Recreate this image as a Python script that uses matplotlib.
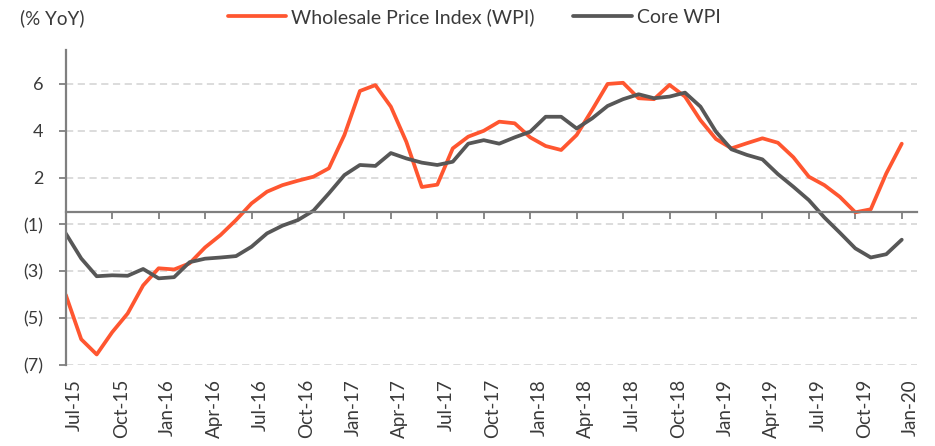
import matplotlib.pyplot as plt
from matplotlib.transforms import ScaledTranslation
import pandas as pd

months = pd.date_range("2015-07-01", "2020-01-01", freq="MS")

wpi = [-3.0, -4.9, -5.55, -4.6, -3.8, -2.6, -1.87, -1.92, -1.66, -0.98,
       -0.45, 0.19, 0.9, 1.4, 1.68, 1.87, 2.04, 2.4, 3.82, 5.7,
       5.95, 5.03, 3.53, 1.6, 1.7, 3.25, 3.75, 4.0, 4.39, 4.32,
       3.72, 3.35, 3.18, 3.82, 4.89, 6.0, 6.05, 5.39, 5.35, 5.96,
       5.46, 4.45, 3.65, 3.25, 3.47, 3.68, 3.49, 2.87, 2.04, 1.68,
       1.18, 0.52, 0.65, 2.18, 3.45]

core_wpi = [-0.38, -1.45, -2.21, -2.17, -2.19, -1.9, -2.3, -2.25, -1.61, -1.46,
            -1.41, -1.35, -0.95, -0.38, -0.05, 0.19, 0.59, 1.33, 2.11, 2.54,
            2.5, 3.05, 2.82, 2.64, 2.54, 2.68, 3.45, 3.6, 3.45, 3.72,
            3.96, 4.6, 4.6, 4.10, 4.53, 5.06, 5.35, 5.56, 5.39, 5.46,
            5.63, 5.03, 3.96, 3.21, 2.97, 2.78, 2.15, 1.61, 1.04, 0.30,
            -0.35, -1.02, -1.41, -1.27, -0.65]

xtick_labels = ["Jul-15", "Oct-15", "Jan-16", "Apr-16", "Jul-16", "Oct-16",
                "Jan-17", "Apr-17", "Jul-17", "Oct-17", "Jan-18", "Apr-18",
                "Jul-18", "Oct-18", "Jan-19", "Apr-19", "Jul-19", "Oct-19",
                "Jan-20"]
ytick_vals = [6, 4, 2, 0, -2, -4, -6]
ytick_labels = ["6", "4", "2", "(1)", "(3)", "(5)", "(7)"]

plt.rcParams['font.family'] = ['Lato', 'DejaVu Sans']

orange = "#FF5630"
grey = "#575757"
axis_grey = "#7F7F7F"
text_col = "#3A3A3A"

fig = plt.figure(figsize=(9.35, 4.46), dpi=100)
ax = fig.add_axes([0.0703, 0.1816, 0.9107, 0.7063])

x = list(range(len(months)))
ax.plot(x, wpi, color=orange, lw=2.7, solid_capstyle='round', solid_joinstyle='round',
        label="Wholesale Price Index (WPI)")
ax.plot(x, core_wpi, color=grey, lw=2.7, solid_capstyle='round', solid_joinstyle='round',
        label="Core WPI")

ax.set_xlim(0, 55.0)
ax.set_ylim(-6, 7.45)

# grid
ax.set_yticks(ytick_vals)
ax.set_yticklabels(ytick_labels)
ax.yaxis.grid(True, color="#D9D9D9", lw=1.3, linestyle=(0, (4, 2.5)))
ax.set_axisbelow(True)
ax.tick_params(axis='y', length=5, width=1.3, color=axis_grey, pad=11,
               labelsize=13, labelcolor=text_col)

for s in ['top', 'right']:
    ax.spines[s].set_visible(False)
ax.spines['left'].set_color(axis_grey)
ax.spines['left'].set_linewidth(1.6)

# horizontal axis line with ticks, labels at the bottom
ax.spines['bottom'].set_position(('data', 0.53))
ax.spines['bottom'].set_color(axis_grey)
ax.spines['bottom'].set_linewidth(1.6)
tick_pos = list(range(0, len(months), 3))
ax.set_xticks(tick_pos)
ax.tick_params(axis='x', direction='out', length=5, width=1.3, color=axis_grey,
               labelbottom=False)

sec = ax.secondary_xaxis(0)
sec.set_xticks(tick_pos)
sec.set_xticklabels(xtick_labels, rotation=90)
sec.spines['bottom'].set_visible(False)
sec.tick_params(length=0, pad=10, labelsize=13.5, labelcolor=text_col)
offset = ScaledTranslation(0.09, 0, fig.dpi_scale_trans)
for lab in sec.get_xticklabels():
    lab.set_transform(lab.get_transform() + offset)

fig.text(0.021, 0.96, "(% YoY)", fontsize=13.5, color=text_col, va='center', ha='left')

ax.legend(loc='center', bbox_to_anchor=(0.507, 0.962), bbox_transform=fig.transFigure,
          ncol=2, frameon=False, fontsize=14, handlelength=3.0, handletextpad=0.25,
          columnspacing=2.0, labelcolor=text_col)

fig.savefig("out.png", dpi=100)
